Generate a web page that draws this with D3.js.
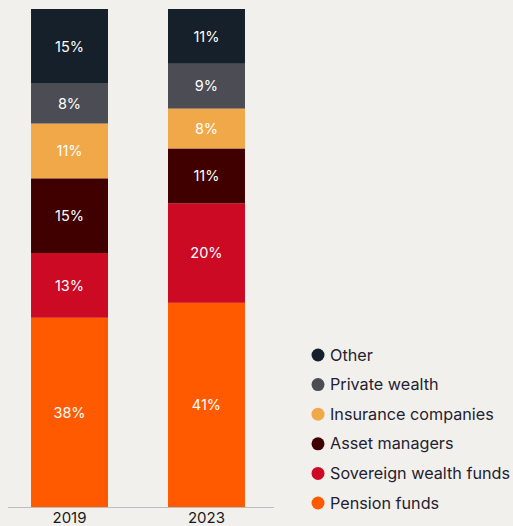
<!DOCTYPE html>
<html><head><meta charset="utf-8">
<script src="https://cdn.jsdelivr.net/npm/d3@7"></script>
<style>html,body{margin:0;padding:0;background:#f2f0ed;}svg{display:block;}</style>
</head><body>
<svg id="c" width="513" height="526"></svg>
<script>
const years = ["2019", "2023"];
const categories = ["Pension funds", "Sovereign wealth funds", "Asset managers", "Insurance companies", "Private wealth", "Other"];
const values2019 = [38, 13, 15, 11, 8, 15];
const values2023 = [41, 20, 11, 8, 9, 11];
const colors = ["#ff5a00", "#cc0a24", "#400000", "#f0a848", "#4c4c55", "#15202a"];

const series = [values2019, values2023];
const font = "Inter, Lato, sans-serif";
const svg = d3.select("#c");
svg.append("rect").attr("width", 513).attr("height", 526).attr("fill", "#f2f0ed");

const x = d3.scaleBand().domain(years).range([5, 271]).paddingInner(0.438).paddingOuter(0.19);
const y = d3.scaleLinear().domain([0, 100]).range([507, 9]);

const rows = years.map((yr, i) => {
  const r = {year: yr};
  categories.forEach((c, j) => r[c] = series[i][j]);
  return r;
});
const stack = d3.stack().keys(categories)(rows);

const g = svg.append("g");
stack.forEach((layer, j) => {
  layer.forEach(d => {
    g.append("rect")
      .attr("x", x(d.data.year))
      .attr("width", x.bandwidth())
      .attr("y", y(d[1]))
      .attr("height", y(d[0]) - y(d[1]))
      .attr("fill", colors[j]);
    g.append("text")
      .attr("x", x(d.data.year) + x.bandwidth() / 2)
      .attr("y", (y(d[0]) + y(d[1])) / 2)
      .attr("dy", "0.36em")
      .attr("text-anchor", "middle")
      .attr("fill", "#ffffff")
      .attr("font-family", font)
      .attr("font-size", 14.5)
      .text(d.data[layer.key] + "%");
  });
});

// axis
const ax = svg.append("g").attr("transform", "translate(0,507)")
  .call(d3.axisBottom(x).tickSize(0).tickPadding(5));
ax.select(".domain").attr("stroke", "#bdbdbd").attr("d", "M8,0.5H274");
ax.selectAll("text").attr("font-family", font).attr("font-size", 15).attr("fill", "#1a1a1a");

// legend
const legendOrder = categories.slice().reverse();
const lg = svg.append("g");
legendOrder.forEach((c, i) => {
  const cy = 355 + i * 29.6;
  lg.append("circle").attr("cx", 318).attr("cy", cy).attr("r", 6.5)
    .attr("fill", colors[categories.indexOf(c)]);
  lg.append("text").attr("x", 330).attr("y", cy).attr("dy", "0.35em")
    .attr("font-family", font).attr("font-size", 16.2).attr("fill", "#1f2230")
    .text(c);
});
</script>
</body></html>
